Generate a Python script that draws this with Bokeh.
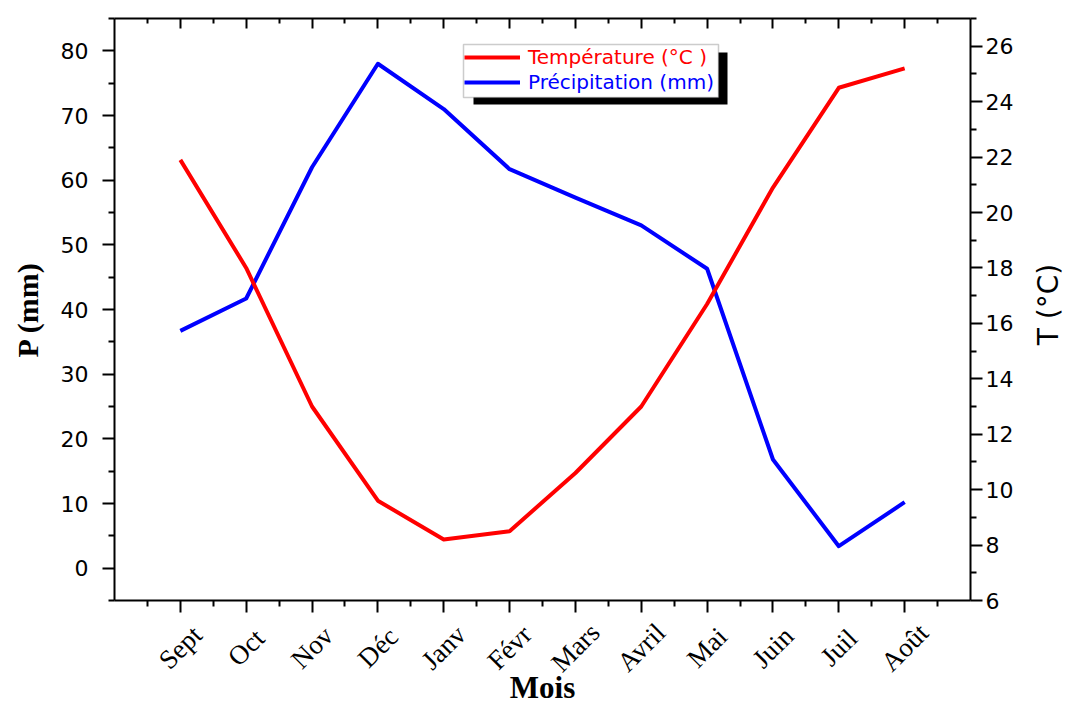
import math
from bokeh.plotting import figure
from bokeh.models import (Range1d, LinearAxis, FixedTicker, Legend, LegendItem,
                          BoxAnnotation, ColumnDataSource, LabelSet, Label,
                          CustomLabelingPolicy)
from bokeh.embed import file_html
from bokeh.resources import INLINE

# Monthly climate data (hydrological year, September to August)
mois = ["Sept", "Oct", "Nov", "Déc", "Janv", "Févr",
        "Mars", "Avril", "Mai", "Juin", "Juil", "Août"]
precipitation_mm = [36.7, 41.7, 62.0, 78.0, 71.0, 61.7,
                    57.3, 53.0, 46.3, 16.8, 3.4, 10.2]
temperature_c = [21.9, 18.0, 13.0, 9.6, 8.2, 8.5,
                 10.6, 13.0, 16.7, 20.9, 24.5, 25.2]

# Axis tick definitions
p_ticks = [0, 10, 20, 30, 40, 50, 60, 70, 80]
p_minor = [-5, 5, 15, 25, 35, 45, 55, 65, 75, 85]
t_ticks = [6, 8, 10, 12, 14, 16, 18, 20, 22, 24, 26]
t_minor = [7, 9, 11, 13, 15, 17, 19, 21, 23, 25, 27]

x = list(range(1, len(mois) + 1))
x_minor = [i + 0.5 for i in range(0, len(mois) + 1)]

# Axis extents in data units
X_LO, X_HI = 0, 13
P_LO, P_HI = -5, 85
T_LO, T_HI = 6, 27

# Page geometry: the drawing box sits inside a 1070x706 canvas
W, H = 1070, 706
BOX_L, BOX_R, BOX_T, BOX_B = 114, 970, 18, 600


def canvas_range(lo, hi, px_lo, px_hi, total, flip=False):
    """Range spanning the whole canvas so that lo/hi land on the box edges."""
    per_px = (hi - lo) / (px_hi - px_lo)
    if flip:
        return Range1d(lo - (total - px_hi) * per_px, hi + px_lo * per_px)
    return Range1d(lo - px_lo * per_px, hi + (total - px_hi) * per_px)


SANS = "DejaVu Sans"
SERIF = "Liberation Serif"

p = figure(width=W, height=H, output_backend="svg", toolbar_location=None,
           x_range=canvas_range(X_LO, X_HI, BOX_L, BOX_R, W),
           y_range=canvas_range(P_LO, P_HI, BOX_T, BOX_B, H, flip=True),
           x_axis_type=None, y_axis_type=None,
           min_border=0, background_fill_color="white",
           border_fill_color="white")
p.outline_line_color = None
p.xgrid.visible = False
p.ygrid.visible = False
p.extra_y_ranges = {"T": canvas_range(T_LO, T_HI, BOX_T, BOX_B, H, flip=True)}

# month axes carry ticks only; month names are drawn as a rotated label set
no_labels = CustomLabelingPolicy(code="return []")


def style_axis(ax):
    ax.axis_line_width = 2
    ax.major_tick_line_width = 2
    ax.minor_tick_line_width = 2
    ax.axis_line_color = "black"
    ax.major_tick_line_color = "black"
    ax.minor_tick_line_color = "black"
    ax.major_label_text_color = "black"
    ax.axis_label_text_color = "black"


# Bottom axis: month ticks
xb = LinearAxis(ticker=FixedTicker(ticks=x, minor_ticks=x_minor),
                major_label_policy=no_labels, fixed_location=P_LO,
                bounds=(X_LO, X_HI))
style_axis(xb)
xb.major_tick_out = 12
xb.major_tick_in = 0
xb.minor_tick_out = 6
xb.minor_tick_in = 0
xb.major_label_text_font_size = "1px"
p.add_layout(xb, "below")

# Top axis: ticks only, pointing inwards
xt = LinearAxis(ticker=FixedTicker(ticks=x, minor_ticks=x_minor),
                major_label_policy=no_labels, fixed_location=P_HI,
                bounds=(X_LO, X_HI))
style_axis(xt)
xt.major_tick_in = 10
xt.major_tick_out = 0
xt.minor_tick_in = 5
xt.minor_tick_out = 0
xt.major_label_text_font_size = "1px"
p.add_layout(xt, "above")

# Left axis: precipitation
yl = LinearAxis(ticker=FixedTicker(ticks=p_ticks, minor_ticks=p_minor),
                axis_label="P (mm)", fixed_location=X_LO, bounds=(P_LO, P_HI))
style_axis(yl)
yl.major_tick_out = 12
yl.major_tick_in = 0
yl.minor_tick_out = 6
yl.minor_tick_in = 0
yl.major_label_text_font = SANS
yl.major_label_text_font_size = "22px"
yl.major_label_standoff = 14
yl.axis_label_text_font = SERIF
yl.axis_label_text_font_style = "bold"
yl.axis_label_text_font_size = "30px"
yl.axis_label_standoff = 14
p.add_layout(yl, "left")

# Right axis: temperature
yr = LinearAxis(y_range_name="T",
                ticker=FixedTicker(ticks=t_ticks, minor_ticks=t_minor),
                fixed_location=X_HI, bounds=(T_LO, T_HI))
style_axis(yr)
yr.major_tick_out = 12
yr.major_tick_in = 0
yr.minor_tick_out = 6
yr.minor_tick_in = 0
yr.major_label_text_font = SANS
yr.major_label_text_font_size = "22px"
yr.major_label_standoff = 3
p.add_layout(yr, "right")

# Data series
r_p = p.line(x, precipitation_mm, line_color="#0000ff", line_width=4,
             line_join="round")
r_t = p.line(x, temperature_c, y_range_name="T", line_color="#ff0000",
             line_width=4, line_join="round")

# Month names, rotated and centred on their ticks
month_src = ColumnDataSource(data=dict(x=x, mois=mois))
p.add_layout(LabelSet(x="x", y=647, y_units="canvas", text="mois",
                      source=month_src, angle=math.pi / 4,
                      text_align="center", text_baseline="middle",
                      text_font=SERIF, text_font_size="27px",
                      text_color="black"))

# Titles of the month axis and of the temperature axis
p.add_layout(Label(x=(BOX_L + BOX_R) / 2, y=687, x_units="canvas",
                   y_units="canvas", text="Mois",
                   text_align="center", text_baseline="middle",
                   text_font=SERIF, text_font_style="bold",
                   text_font_size="31px", text_color="black"))
p.add_layout(Label(x=1048, y=304, x_units="canvas",
                   y_units="canvas", text="T (°C)", angle=math.pi / 2,
                   text_align="center", text_baseline="middle",
                   text_font=SANS, text_font_size="28px", text_color="black"))

# Legend frame with drop shadow
shadow = BoxAnnotation(left=473, right=727, top=52, bottom=104,
                       left_units="canvas", right_units="canvas",
                       top_units="canvas", bottom_units="canvas",
                       fill_color="black", fill_alpha=1.0,
                       line_color=None, level="overlay")
box = BoxAnnotation(left=463, right=718, top=44, bottom=97,
                    left_units="canvas", right_units="canvas",
                    top_units="canvas", bottom_units="canvas",
                    fill_color="white", fill_alpha=1.0,
                    line_color="#555555", line_width=1.5, level="overlay")
p.add_layout(shadow)
p.add_layout(box)


def make_legend(item, color, loc):
    return Legend(items=[item], location=loc, margin=0, padding=0,
                  spacing=0, glyph_width=56, glyph_height=24,
                  label_height=24, label_standoff=8,
                  label_text_font=SANS, label_text_font_size="20px",
                  label_text_color=color,
                  border_line_alpha=0, background_fill_alpha=0)


# legend rows: offsets are measured from the lower-left corner of the canvas
p.add_layout(make_legend(LegendItem(label="Température (°C )", renderers=[r_t]),
                         "#ff0000", (464, H - 69)))
p.add_layout(make_legend(LegendItem(label="Précipitation (mm)", renderers=[r_p]),
                         "#0000ff", (464, H - 94)))

open("out.html", "w").write(file_html(p, INLINE))
